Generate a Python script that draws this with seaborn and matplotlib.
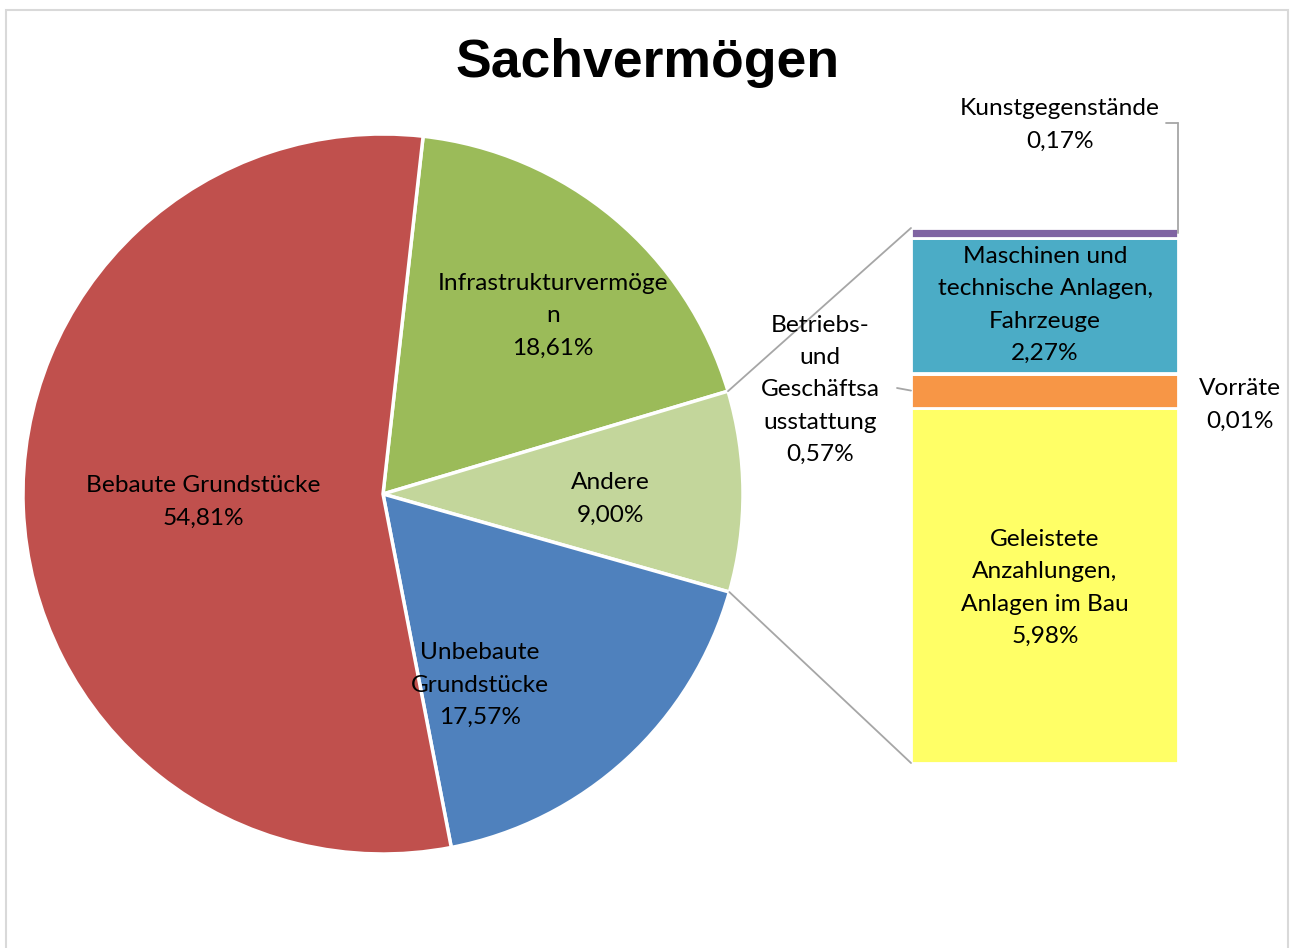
import matplotlib
matplotlib.use("Agg")
import matplotlib.pyplot as plt
import seaborn as sns
import numpy as np
from matplotlib.patches import ConnectionPatch, Rectangle
from matplotlib.lines import Line2D

# ---------------- data ----------------
pie_labels = ["Infrastrukturvermöge\nn", "Andere", "Unbebaute\nGrundstücke", "Bebaute Grundstücke"]
pie_values = [18.61, 9.00, 17.57, 54.81]
pie_colors = ["#9BBB59", "#C3D69B", "#4F81BD", "#C0504D"]

bar_labels = ["Geleistete\nAnzahlungen,\nAnlagen im Bau", "Betriebs-\nund\nGeschäftsa\nusstattung",
              "Vorräte", "Maschinen und\ntechnische Anlagen,\nFahrzeuge", "Kunstgegenstände"]
bar_values = [5.98, 0.57, 0.01, 2.27, 0.17]
bar_colors = ["#FFFF66", "#F79646", "#4BACC6", "#4BACC6", "#8064A2"]

title = "Sachvermögen"

def fmt(v):
    return f"{v:.2f}".replace(".", ",") + "%"

# ---------------- figure ----------------
sns.set_theme(style="white")
plt.rcParams["font.family"] = ["Lato", "DejaVu Sans"]

W, H = 1292, 948
fig = plt.figure(figsize=(W / 100, H / 100), dpi=100)
fig.patch.set_facecolor("white")

def fx(px):
    return px / W

def fy(py):
    return 1 - py / H

# outer frame
fig.add_artist(Rectangle((fx(6), fy(990)), fx(1288) - fx(6), fy(10) - fy(990),
                         transform=fig.transFigure, fill=False, edgecolor="#D9D9D9", linewidth=1.5))

# title
fig.text(fx(648), fy(63), title, ha="center", va="center", fontsize=38.5, fontweight="bold",
         family="Liberation Sans", color="black")

# ---------------- pie ----------------
cx, cy, r = 383, 494, 360
ax_pie = fig.add_axes([fx(cx - r), fy(cy + r), fx(2 * r), (2 * r) / H])
start = 90 - 6.4
wedges, _ = ax_pie.pie(pie_values, colors=pie_colors, startangle=start, counterclock=False,
                       wedgeprops=dict(edgecolor="white", linewidth=2.5))
ax_pie.set_xlim(-1, 1)
ax_pie.set_ylim(-1, 1)
ax_pie.set_aspect("equal")
ax_pie.axis("off")

pie_label_pos = [(553, 316), (610, 499), (480, 685), (203, 502)]
FS = 17.6
LS = 1.66
for lab, v, (px, py) in zip(pie_labels, pie_values, pie_label_pos):
    fig.text(fx(px), fy(py), f"{lab}\n{fmt(v)}", ha="center", va="center", fontsize=FS,
             linespacing=LS, color="black")

# ---------------- bar ----------------
bx0, bx1, by_top, by_bot = 911, 1178, 228, 763
ax_bar = fig.add_axes([fx(bx0), fy(by_bot), fx(bx1 - bx0), (by_bot - by_top) / H])
bottom = 0.0
bottoms = []
for v, c in zip(bar_values, bar_colors):
    ax_bar.bar(0, v, bottom=bottom, width=1.0, color=c, edgecolor="white", linewidth=2.0)
    bottoms.append(bottom)
    bottom += v
ax_bar.set_xlim(-0.5, 0.5)
ax_bar.set_ylim(0, sum(bar_values))
ax_bar.axis("off")

# bar labels
bar_label_pos = [(1045, 588), (820, 390), (1240, 405), (1045, 305), (1060, 125)]
for lab, v, (px, py) in zip(bar_labels, bar_values, bar_label_pos):
    fig.text(fx(px), fy(py), f"{lab}\n{fmt(v)}", ha="center", va="center", fontsize=FS,
             linespacing=LS, color="black")

# leader line Betriebs- und Geschäftsausstattung
mid_b = bottoms[1] + bar_values[1] / 2
fig.add_artist(ConnectionPatch((fx(897), fy(388)), (-0.5, mid_b), coordsA=fig.transFigure,
                               coordsB=ax_bar.transData, color="#A6A6A6", linewidth=1.3))
# leader line Kunstgegenstände
mid_k = bottoms[4] + bar_values[4] / 2
fig.add_artist(Line2D([fx(1166), fx(1178)], [fy(123), fy(123)], transform=fig.transFigure,
                      color="#A6A6A6", linewidth=1.3))
fig.add_artist(ConnectionPatch((fx(1178), fy(123)), (0.5, mid_k), coordsA=fig.transFigure,
                               coordsB=ax_bar.transData, color="#A6A6A6", linewidth=1.3))

# connector lines pie -> bar
w = wedges[1]
for ang, yb in [(w.theta2, sum(bar_values)), (w.theta1, 0.0)]:
    a = np.deg2rad(ang)
    fig.add_artist(ConnectionPatch((np.cos(a), np.sin(a)), (-0.5, yb), coordsA=ax_pie.transData,
                                   coordsB=ax_bar.transData, color="#A6A6A6", linewidth=1.3))

fig.savefig("out.png", dpi=100, facecolor="white")
